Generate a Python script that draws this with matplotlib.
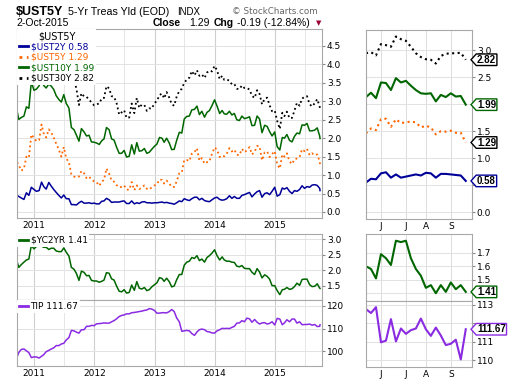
import numpy as np
import pandas as pd
import matplotlib
matplotlib.use("Agg")
import matplotlib.pyplot as plt
from matplotlib.lines import Line2D
from matplotlib.path import Path

# ---- data ----
# "end" arrays: 2010-09-20, month ends Sep 2010 .. Sep 2015, 2015-10-02
# "mid" arrays: the 15th of each month, Oct 2010 .. Sep 2015
ust2y_end = [0.45, 0.42, 0.34, 0.45, 0.61, 0.58, 0.69, 0.80, 0.61, 0.45, 0.46, 0.36, 0.20,
             0.25, 0.24, 0.25, 0.24, 0.22, 0.30, 0.33, 0.27, 0.27, 0.30, 0.23, 0.22, 0.23,
             0.28, 0.25, 0.25, 0.26, 0.25, 0.24, 0.21, 0.30, 0.36, 0.31, 0.40, 0.33, 0.31,
             0.28, 0.38, 0.34, 0.33, 0.44, 0.42, 0.37, 0.47, 0.53, 0.49, 0.58, 0.50, 0.47,
             0.67, 0.47, 0.62, 0.56, 0.58, 0.61, 0.64, 0.67, 0.74, 0.64, 0.58]
ust2y_mid = [0.38, 0.52, 0.67,
             0.56, 0.81, 0.62, 0.70, 0.53, 0.38, 0.36, 0.20, 0.19, 0.29, 0.24, 0.23,
             0.22, 0.29, 0.37, 0.26, 0.27, 0.29, 0.23, 0.30, 0.25, 0.27, 0.25, 0.24,
             0.25, 0.27, 0.26, 0.23, 0.25, 0.28, 0.33, 0.36, 0.40, 0.37, 0.29, 0.33,
             0.40, 0.32, 0.36, 0.37, 0.37, 0.45, 0.50, 0.41, 0.55, 0.40, 0.52, 0.56,
             0.43, 0.65, 0.66, 0.50, 0.56, 0.71, 0.69, 0.73, 0.72]
ust5y_end = [1.35, 1.27, 1.17, 1.47, 2.01, 1.95, 2.13, 2.24, 2.02, 1.69, 1.76, 1.35, 0.96,
             0.96, 1.05, 0.96, 0.83, 0.71, 0.87, 1.04, 0.82, 0.67, 0.72, 0.60, 0.59, 0.62,
             0.72, 0.61, 0.72, 0.88, 0.77, 0.77, 0.68, 1.05, 1.41, 1.38, 1.62, 1.39, 1.31,
             1.37, 1.75, 1.49, 1.51, 1.73, 1.69, 1.54, 1.62, 1.76, 1.63, 1.78, 1.62, 1.49,
             1.65, 1.18, 1.50, 1.37, 1.43, 1.49, 1.65, 1.54, 1.54, 1.37, 1.29]
ust5y_mid = [1.12, 1.50, 2.10,
             1.92, 2.37, 2.02, 2.15, 1.85, 1.50, 1.45, 1.02, 0.94, 1.11, 0.92, 0.88,
             0.81, 0.82, 1.18, 0.85, 0.73, 0.68, 0.61, 0.81, 0.72, 0.66, 0.63, 0.67,
             0.75, 0.87, 0.85, 0.68, 0.83, 1.07, 1.41, 1.58, 1.73, 1.46, 1.35, 1.57,
             1.69, 1.53, 1.58, 1.64, 1.55, 1.71, 1.67, 1.56, 1.79, 1.40, 1.64, 1.57,
             1.29, 1.56, 1.59, 1.30, 1.45, 1.70, 1.71, 1.59, 1.56]
ust10y_end = [2.72, 2.51, 2.60, 2.81, 3.30, 3.42, 3.43, 3.47, 3.32, 3.05, 3.18, 2.82, 2.23,
              1.92, 2.17, 2.08, 1.89, 1.83, 1.98, 2.23, 1.95, 1.59, 1.67, 1.51, 1.57, 1.65,
              1.72, 1.62, 1.78, 2.02, 1.89, 1.87, 1.70, 2.16, 2.52, 2.60, 2.78, 2.64, 2.57,
              2.75, 3.04, 2.67, 2.66, 2.73, 2.67, 2.48, 2.53, 2.58, 2.35, 2.52, 2.35, 2.18,
              2.17, 1.68, 2.00, 1.94, 2.05, 2.12, 2.35, 2.20, 2.22, 2.06, 1.99]
ust10y_mid = [2.56, 2.85, 3.53,
              3.33, 3.62, 3.36, 3.41, 3.15, 2.98, 2.94, 2.29, 2.08, 2.26, 2.06, 1.90,
              1.87, 1.93, 2.29, 1.98, 1.76, 1.59, 1.49, 1.82, 1.88, 1.66, 1.59, 1.70,
              1.84, 2.00, 2.00, 1.69, 1.94, 2.14, 2.59, 2.77, 2.87, 2.73, 2.70, 2.88,
              2.87, 2.75, 2.65, 2.63, 2.50, 2.60, 2.55, 2.34, 2.60, 2.15, 2.32, 2.06,
              1.77, 2.02, 2.10, 1.90, 2.14, 2.36, 2.40, 2.20, 2.28]
ust30y_end = [3.82, 3.69, 3.99, 4.11, 4.34, 4.58, 4.51, 4.51, 4.40, 4.22, 4.37, 4.12, 3.60,
              2.90, 3.13, 3.05, 2.89, 2.94, 3.09, 3.35, 3.12, 2.64, 2.76, 2.56, 2.68, 2.82,
              2.90, 2.81, 2.95, 3.17, 3.08, 3.10, 2.88, 3.28, 3.50, 3.64, 3.70, 3.69, 3.63,
              3.83, 3.96, 3.60, 3.58, 3.56, 3.47, 3.33, 3.36, 3.32, 3.09, 3.20, 3.07, 2.89,
              2.75, 2.25, 2.60, 2.54, 2.75, 2.88, 3.11, 2.92, 2.95, 2.85, 2.82]
ust30y_mid = [3.98, 4.27, 4.55,
              4.52, 4.68, 4.46, 4.49, 4.27, 4.15, 4.25, 3.77, 3.33, 3.22, 3.12, 2.97,
              2.92, 3.08, 3.41, 3.14, 2.96, 2.70, 2.55, 2.94, 3.09, 2.91, 2.74, 2.80,
              3.01, 3.21, 3.25, 2.92, 3.13, 3.34, 3.59, 3.82, 3.84, 3.73, 3.78, 3.81,
              3.84, 3.69, 3.59, 3.46, 3.34, 3.43, 3.36, 3.15, 3.30, 2.92, 3.10, 2.73,
              2.47, 2.69, 2.72, 2.55, 2.96, 3.08, 3.14, 2.86, 3.06]
yc2yr_end = [2.27, 2.09, 2.26, 2.36, 2.69, 2.78, 2.74, 2.67, 2.71, 2.60, 2.72, 2.46, 2.03,
             1.67, 1.93, 1.83, 1.65, 1.61, 1.68, 1.90, 1.68, 1.32, 1.37, 1.28, 1.35, 1.42,
             1.44, 1.37, 1.53, 1.76, 1.64, 1.63, 1.49, 1.86, 2.16, 2.29, 2.38, 2.31, 2.26,
             2.47, 2.66, 2.33, 2.33, 2.29, 2.25, 2.11, 2.06, 2.05, 1.86, 1.94, 1.85, 1.71,
             1.50, 1.21, 1.38, 1.38, 1.47, 1.51, 1.71, 1.53, 1.48, 1.42, 1.41]
yc2yr_mid = [2.18, 2.33, 2.80,
             2.77, 2.78, 2.74, 2.71, 2.62, 2.60, 2.58, 2.09, 1.89, 1.97, 1.82, 1.67,
             1.65, 1.64, 1.92, 1.72, 1.49, 1.30, 1.26, 1.52, 1.63, 1.39, 1.34, 1.46,
             1.59, 1.73, 1.74, 1.46, 1.69, 1.86, 2.26, 2.41, 2.47, 2.36, 2.41, 2.55,
             2.47, 2.43, 2.29, 2.26, 2.13, 2.15, 2.05, 1.93, 2.05, 1.75, 1.80, 1.50,
             1.34, 1.37, 1.44, 1.40, 1.58, 1.70, 1.71, 1.47, 1.56]
tip_end = [97.6, 99.5, 101.0, 99.4, 97.5, 97.0, 98.5, 100.4, 101.5, 102.5, 103.5, 106.0, 109.0,
           108.0, 109.5, 111.0, 111.3, 112.2, 112.5, 112.4, 113.5, 115.3, 116.0, 116.5, 117.1,
           117.5, 118.0, 118.8, 118.0, 116.8, 117.0, 117.5, 117.5, 113.0, 109.0, 109.0, 107.0,
           109.5, 109.5, 108.5, 108.0, 109.5, 110.0, 110.0, 111.0, 112.5, 113.0, 114.3, 114.0,
           112.0, 112.6, 112.3, 111.6, 114.2, 112.5, 113.0, 114.2, 113.0, 111.8, 112.0, 111.8,
           111.0, 111.67]
tip_mid = [100.8, 100.2, 97.2,
           97.5, 97.8, 99.8, 101.0, 102.5, 103.2, 105.0, 109.2, 108.4, 109.5, 111.0, 111.4,
           112.1, 112.3, 112.4, 113.0, 114.3, 115.8, 116.5, 117.0, 117.3, 117.7, 118.2, 118.6,
           116.8, 117.0, 116.9, 118.4, 114.7, 108.8, 109.2, 107.8, 108.5, 109.8, 108.7, 108.1,
           109.0, 110.1, 110.1, 110.5, 112.4, 113.5, 114.6, 112.8, 112.8, 112.5, 112.0, 113.0,
           114.5, 111.7, 113.9, 114.2, 112.4, 111.7, 111.8, 111.5, 110.9]

# weekly samples for the small right-hand panels (mid-May .. Oct 2 2015)
weeks = list(range(21))
week_ticks = [3, 8, 12, 17]
week_labels = ["J", "J", "A", "S"]
ust2y_w = [0.55, 0.62, 0.61, 0.72, 0.74, 0.64, 0.70, 0.64, 0.66, 0.68, 0.70,
           0.68, 0.73, 0.72, 0.64, 0.71, 0.71, 0.70, 0.69, 0.68, 0.58]
ust5y_w = [1.46, 1.55, 1.52, 1.72, 1.73, 1.58, 1.72, 1.65, 1.66, 1.68, 1.66,
           1.57, 1.60, 1.57, 1.44, 1.50, 1.49, 1.51, 1.47, 1.47, 1.29]
ust10y_w = [2.13, 2.21, 2.11, 2.40, 2.39, 2.26, 2.48, 2.40, 2.43, 2.34, 2.26,
            2.20, 2.19, 2.20, 2.05, 2.17, 2.13, 2.20, 2.14, 2.15, 1.99]
ust30y_w = [2.94, 2.96, 2.90, 3.11, 3.09, 3.06, 3.25, 3.20, 3.17, 3.06, 2.94,
            2.87, 2.83, 2.82, 2.75, 2.89, 2.93, 2.94, 2.94, 2.95, 2.82]
yc2yr_w = [1.60, 1.58, 1.51, 1.69, 1.66, 1.61, 1.79, 1.78, 1.79, 1.66, 1.58,
           1.53, 1.44, 1.46, 1.40, 1.46, 1.41, 1.48, 1.43, 1.46, 1.41]
tip_w = [112.76, 112.55, 112.87, 110.96, 111.05, 112.22, 111.01, 111.71, 111.42, 111.62,
         111.71, 112.25, 111.67, 111.31, 111.76, 111.33, 110.81, 110.88, 111.10, 110.03,
         111.67]

year_ticks = pd.to_datetime(["2011-01-01", "2012-01-01", "2013-01-01", "2014-01-01", "2015-01-01"])
half_ticks = pd.to_datetime(["2011-07-01", "2012-07-01", "2013-07-01", "2014-07-01", "2015-07-01"])
year_labels = ["2011", "2012", "2013", "2014", "2015"]

# dates for the semi-monthly samples
mids = list(pd.date_range("2010-10-01", "2015-09-01", freq="MS") + pd.Timedelta(days=14))
ends = list(pd.date_range("2010-10-31", "2015-09-30", freq="ME"))
dates = [pd.Timestamp("2010-09-20"), pd.Timestamp("2010-09-30")]
for m, e in zip(mids, ends):
    dates += [m, e]
dates.append(pd.Timestamp("2015-10-02"))


def merge(end, mid):
    out = list(end[:2])
    for m, e in zip(mid, end[2:-1]):
        out += [m, e]
    out.append(end[-1])
    return out


ust2y = merge(ust2y_end, ust2y_mid)
ust5y = merge(ust5y_end, ust5y_mid)
ust10y = merge(ust10y_end, ust10y_mid)
ust30y = merge(ust30y_end, ust30y_mid)
yc2yr = merge(yc2yr_end, yc2yr_mid)
tip = merge(tip_end, tip_mid)

C2, C5, C10, C30 = "#000099", "#ff6600", "#006600", "#000000"
CTIP = "#8a2be2"

plt.rcParams["font.family"] = "DejaVu Sans"
W, H = 510, 384
fig = plt.figure(figsize=(W / 100, H / 100), dpi=100)


def box(l, t, r, b):
    return [l / W, 1 - b / H, (r - l) / W, (b - t) / H]


def style(ax, show_x):
    for s in ax.spines.values():
        s.set_color("#a8a8a8")
        s.set_linewidth(0.8)
    ax.yaxis.tick_right()
    ax.tick_params(axis="y", length=2, pad=1.5, labelsize=6.5, color="#888888")
    ax.tick_params(axis="x", which="both", length=0, pad=2.5, labelsize=6.5)
    if not show_x:
        ax.tick_params(axis="x", labelbottom=False)
    ax.set_axisbelow(True)
    ax.grid(True, axis="y", color="#e2e2e2", lw=0.7)


def left_x(ax, show_x):
    ax.set_xlim(pd.Timestamp("2010-09-19"), pd.Timestamp("2015-10-14"))
    ax.set_xticks(year_ticks)
    ax.set_xticklabels(year_labels if show_x else [])
    ax.set_xticks(half_ticks, minor=True)
    ax.grid(True, axis="x", which="major", color="#cfcfcf", lw=0.8)
    ax.grid(True, axis="x", which="minor", color="#e6e6e6", lw=0.7)


def right_x(ax, show_x):
    ax.set_xlim(0, 21.25)
    ax.set_xticks(week_ticks)
    ax.set_xticklabels(week_labels if show_x else [])
    ax.grid(True, axis="x", color="#dcdcdc", lw=0.7)


def tag_shape(x0, y0, width, height, mutation_size):
    pad = mutation_size * 0.08
    x0, y0 = x0 - pad, y0 - pad
    width, height = width + 2 * pad, height + 2 * pad
    tip = height * 0.45
    verts = [(x0, y0), (x0 + width, y0), (x0 + width, y0 + height),
             (x0, y0 + height), (x0 - tip, y0 + height / 2), (x0, y0)]
    return Path(verts, closed=True)


def tag(ax, value, text, ec):
    ax.annotate(text, xy=(1.0, value), xycoords=("axes fraction", "data"),
                xytext=(5, 0), textcoords="offset pixels", ha="left", va="center",
                fontsize=7, fontweight="bold", family="Liberation Sans",
                annotation_clip=False, zorder=10,
                bbox=dict(boxstyle=tag_shape, fc="white", ec=ec, lw=1.0))


def tick_text(vals, fmt, hidden=()):
    return ["" if v in hidden else fmt.format(v) for v in vals]


# ---- main panel ----
ax = fig.add_axes(box(17, 29, 322, 218))
style(ax, True)
left_x(ax, True)
ax.plot(dates, ust2y, color=C2, lw=1.1)
ax.plot(dates, ust5y, color=C5, lw=1.3, ls=":")
ax.plot(dates, ust10y, color=C10, lw=1.1)
ax.plot(dates, ust30y, color=C30, lw=1.3, ls=":")
ax.set_ylim(-0.163, 4.96)
main_ticks = [0.0, 0.5, 1.0, 1.5, 2.0, 2.5, 3.0, 3.5, 4.0, 4.5]
ax.set_yticks(main_ticks)
ax.set_yticklabels(tick_text(main_ticks, "{:.1f}"))
handles = [Line2D([], [], color=C2, lw=2), Line2D([], [], color=C5, lw=2, ls=":"),
           Line2D([], [], color=C10, lw=2), Line2D([], [], color=C30, lw=2, ls=":")]
labels = [r"\$UST2Y 0.58", r"\$UST5Y 1.29", r"\$UST10Y 1.99", r"\$UST30Y 2.82"]
leg = ax.legend(handles, labels, loc="upper left", title=r"\$UST5Y", fontsize=6.5,
                title_fontsize=7, frameon=True, facecolor="white", edgecolor="none",
                framealpha=1, fancybox=False, borderaxespad=0, borderpad=0.25,
                handlelength=1.0, handletextpad=0.25, labelspacing=0.15)
for t, c in zip(leg.get_texts(), [C2, C5, C10, C30]):
    t.set_color(c)
leg.set_zorder(6)

# ---- yield curve panel ----
ax2 = fig.add_axes(box(17, 234, 322, 300))
style(ax2, False)
left_x(ax2, False)
ax2.plot(dates, yc2yr, color=C10, lw=1.1)
ax2.set_ylim(1.036, 3.17)
ax2.set_yticks([1.5, 2.0, 2.5, 3.0])
ax2.set_yticklabels(["1.5", "2.0", "2.5", "3.0"])
leg2 = ax2.legend([Line2D([], [], color=C10, lw=2)], [r"\$YC2YR 1.41"], loc="upper left",
                  fontsize=6.5, frameon=True, facecolor="white", edgecolor="none",
                  framealpha=1, fancybox=False, borderaxespad=0, borderpad=0.2,
                  handlelength=1.0, handletextpad=0.3)
leg2.set_zorder(6)

# ---- TIP panel ----
ax3 = fig.add_axes(box(17, 300, 322, 366))
style(ax3, True)
left_x(ax3, True)
ax3.plot(dates, tip, color=CTIP, lw=1.1)
ax3.set_ylim(93.5, 122.6)
ax3.set_yticks([100, 110, 120])
leg3 = ax3.legend([Line2D([], [], color=CTIP, lw=2)], ["TIP 111.67"], loc="upper left",
                  fontsize=6.5, frameon=True, facecolor="white", edgecolor="none",
                  framealpha=1, fancybox=False, borderaxespad=0, borderpad=0.2,
                  handlelength=1.0, handletextpad=0.3)
leg3.set_zorder(6)

# ---- right-hand weekly panels ----
rx = fig.add_axes(box(366, 30, 472, 219))
style(rx, True)
right_x(rx, True)
rx.plot(weeks, ust2y_w, color=C2, lw=1.5)
rx.plot(weeks, ust5y_w, color=C5, lw=1.5, ls=":")
rx.plot(weeks, ust10y_w, color=C10, lw=1.5)
rx.plot(weeks, ust30y_w, color=C30, lw=1.5, ls=":")
rx.set_ylim(-0.124, 3.37)
right_ticks = [0.0, 0.5, 1.0, 1.5, 2.0, 2.5, 3.0]
rx.set_yticks(right_ticks)
# 0.5 and 2.0 sit under the value tags
rx.set_yticklabels(tick_text(right_ticks, "{:.1f}", hidden=(0.5, 2.0)))
tag(rx, ust30y_w[-1], "2.82", "black")
tag(rx, ust10y_w[-1], "1.99", C10)
tag(rx, ust5y_w[-1], "1.29", "black")
tag(rx, ust2y_w[-1], "0.58", C2)

rx2 = fig.add_axes(box(366, 234, 472, 300.5))
style(rx2, False)
right_x(rx2, False)
rx2.plot(weeks, yc2yr_w, color=C10, lw=1.5)
rx2.set_ylim(1.346, 1.84)
yc_ticks = [1.4, 1.5, 1.6, 1.7]
rx2.set_yticks(yc_ticks)
rx2.set_yticklabels(tick_text(yc_ticks, "{:.1f}", hidden=(1.4,)))
tag(rx2, yc2yr_w[-1], "1.41", C10)

rx3 = fig.add_axes(box(366, 300.5, 472, 367))
style(rx3, True)
right_x(rx3, True)
rx3.plot(weeks, tip_w, color=CTIP, lw=1.5)
rx3.set_ylim(109.62, 113.23)
tip_ticks = [110, 111, 112, 113]
rx3.set_yticks(tip_ticks)
rx3.set_yticklabels(tick_text(tip_ticks, "{:d}", hidden=(112,)))
tag(rx3, tip_w[-1], "111.67", CTIP)

# ---- header ----
def ftext(x, y, s, **kw):
    fig.text(x / W, 1 - y / H, s, va="baseline", ha="left", **kw)

ftext(16, 15, r"\$UST5Y", fontsize=9, fontweight="bold", family="Liberation Sans")
ftext(68, 15, "5-Yr Treas Yld (EOD)", fontsize=7.7, family="Liberation Sans")
ftext(177, 15, "INDX", fontsize=7, family="Liberation Sans")
ftext(232, 14, "\u00a9 StockCharts.com", fontsize=6.3, color="#666666")
ftext(16, 26, "2-Oct-2015", fontsize=7.5, family="Liberation Sans")
ftext(153, 26, "Close", fontsize=7.5, fontweight="bold", family="Liberation Sans")
ftext(189, 26, "1.29", fontsize=7.5, family="Liberation Sans")
ftext(214, 26, "Chg", fontsize=7.5, fontweight="bold", family="Liberation Sans")
ftext(237, 26, "-0.19 (-12.84%)", fontsize=7.5, family="Liberation Sans")
ftext(316, 25, "\u25bc", fontsize=5, color="#990033")

fig.savefig("out.png", dpi=100)
